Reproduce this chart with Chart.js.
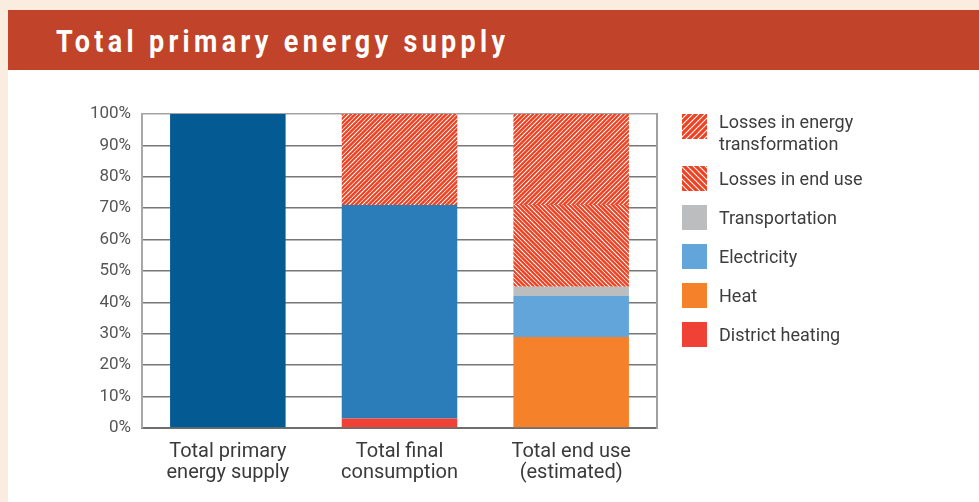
<!DOCTYPE html>
<html>
<head>
<meta charset="utf-8">
<script src="https://cdn.jsdelivr.net/npm/chart.js@4/dist/chart.umd.min.js"></script>
<style>
  html, body { margin:0; padding:0; width:979px; height:502px; overflow:hidden; background:#fbece0; }
  #band { position:absolute; left:8px; top:10px; width:971px; height:60px; background:#c1432a; }
  #title { position:absolute; left:56px; top:25.5px; color:#fff; font:700 31px Roboto, sans-serif; line-height:31px;
           letter-spacing:5px; white-space:nowrap; transform-origin:0 0; }
  #panel { position:absolute; left:8px; top:70px; width:971px; height:432px; background:#fff; }
  #c { position:absolute; left:0; top:0; }
</style>
</head>
<body>
<div id="band"></div>
<div id="title">Total primary energy supply</div>
<div id="panel"><canvas id="c" width="971" height="432"></canvas></div>
<script>
// ---- data ----
const categories = [['Total primary', 'energy supply'], ['Total final', 'consumption'], ['Total end use', '(estimated)']];
const yTickValues = [0, 10, 20, 30, 40, 50, 60, 70, 80, 90, 100];
const primarySupply = [100, null, null];
const districtHeating = [null, 3, null];
const finalConsumption = [null, 68, null];
const heat = [null, null, 29];
const electricity = [null, null, 13];
const transportation = [null, null, 3];
const lossesEndUse = [null, null, 26];
const lossesTransformation = [null, 29, 29];
const legendLabels = {
  lossesTransformation: ['Losses in energy', 'transformation'],
  lossesEndUse: ['Losses in end use'],
  transportation: ['Transportation'],
  electricity: ['Electricity'],
  heat: ['Heat'],
  districtHeating: ['District heating']
};

// ---- title fit ----
(function(){
  const t = document.getElementById('title');
  const w = t.getBoundingClientRect().width - 5;
  t.style.transform = 'scaleX(' + (449 / w) + ')';
})();

// ---- hatch patterns ----
function hatch(dir, N, stripes, frac) {
  const per = N / stripes;
  const cv = document.createElement('canvas'); cv.width = cv.height = N;
  const g = cv.getContext('2d'); const img = g.createImageData(N, N);
  const red = [240, 66, 34];
  for (let y = 0; y < N; y++) for (let x = 0; x < N; x++) {
    let cov = 0;
    for (let i = 0; i < 2; i++) for (let j = 0; j < 2; j++) {
      const sx = x + (i + 0.5) / 2, sy = y + (j + 0.5) / 2;
      const t = dir > 0 ? (sx + sy) : (sx - sy);
      const m = (((t % per) + per) % per) / per;
      if (m < frac) cov++;
    }
    cov /= 4;
    const k = (y * N + x) * 4;
    for (let c = 0; c < 3; c++) img.data[k + c] = Math.round(red[c] * cov + 255 * (1 - cov));
    img.data[k + 3] = 255;
  }
  g.putImageData(img, 0, 0);
  return g.createPattern(cv, 'repeat');
}
const ctx = document.getElementById('c').getContext('2d');
const hatchFwd = hatch(1, 13, 3, 0.72);   // "///"
const hatchBack = hatch(-1, 13, 3, 0.72); // "\\\"
const swatchFwd = hatch(1, 12, 2, 0.68);
const swatchBack = hatch(-1, 12, 2, 0.68);

// ---- custom legend ----
const legendPlugin = {
  id: 'sideLegend',
  afterDraw(chart) {
    const g = chart.ctx;
    const items = chart.data.datasets.filter(d => d.legendKey).slice().reverse();
    let top = 44;
    g.save();
    g.font = '18px Roboto, sans-serif';
    g.textBaseline = 'alphabetic';
    g.textAlign = 'left';
    items.forEach(d => {
      const lines = legendLabels[d.legendKey];
      g.save();
      g.translate(674, top);
      g.fillStyle = d.swatch || d.backgroundColor;
      g.fillRect(0, 0, 25, 25);
      g.restore();
      g.fillStyle = '#3d3d3d';
      if (lines.length === 1) {
        g.fillText(lines[0], 711, top + 19);
      } else {
        lines.forEach((l, i) => g.fillText(l, 711, top + 13.5 + i * 22));
      }
      top += 39 + (lines.length - 1) * 13;
    });
    g.restore();
  }
};

new Chart(ctx, {
  type: 'bar',
  data: {
    labels: categories,
    datasets: [
      { label: 'Total primary energy supply', data: primarySupply, backgroundColor: '#045b93' },
      { label: 'District heating', legendKey: 'districtHeating', data: districtHeating, backgroundColor: '#ef4136' },
      { label: 'Total final consumption', data: finalConsumption, backgroundColor: '#2a7db8' },
      { label: 'Heat', legendKey: 'heat', data: heat, backgroundColor: '#f5812a' },
      { label: 'Electricity', legendKey: 'electricity', data: electricity, backgroundColor: '#62a5da' },
      { label: 'Transportation', legendKey: 'transportation', data: transportation, backgroundColor: '#bcbdbf' },
      { label: 'Losses in end use', legendKey: 'lossesEndUse', data: lossesEndUse, backgroundColor: hatchBack, swatch: swatchBack },
      { label: 'Losses in energy transformation', legendKey: 'lossesTransformation', data: lossesTransformation, backgroundColor: hatchFwd, swatch: swatchFwd }
    ]
  },
  options: {
    responsive: false,
    devicePixelRatio: 1,
    animation: false,
    layout: { padding: { left: 0, right: 322, top: 44, bottom: 0 } },
    datasets: { bar: { categoryPercentage: 1, barPercentage: 0.673, borderWidth: 0 } },
    plugins: { legend: { display: false }, tooltip: { enabled: false } },
    scales: {
      x: {
        stacked: true,
        grid: { display: false, drawTicks: false },
        border: { display: true, color: '#6e6e6e', width: 2 },
        ticks: { color: '#3a3a3a', font: { family: 'Roboto', size: 20, lineHeight: 1.05 }, padding: 13, maxRotation: 0, autoSkip: false },
        afterFit(s) { s.height = 74; }
      },
      y: {
        stacked: true, min: 0, max: 100,
        afterBuildTicks(s) { s.ticks = yTickValues.map(v => ({ value: v })); },
        grid: { drawTicks: false, lineWidth: 1.5, color: c => (c.tick && c.tick.value === 100) ? '#a3a3a3' : '#777777' },
        border: { display: true, color: '#a8a8a8', width: 2 },
        ticks: { color: '#555555', font: { family: 'Roboto', size: 17 }, padding: 11, callback: v => v + '%' },
        afterFit(s) { s.width = 134; }
      },
      y2: {
        type: 'linear', position: 'right', min: 0, max: 100,
        grid: { display: false, drawTicks: false },
        border: { display: true, color: '#a0a0a0', width: 2 },
        ticks: { display: false },
        afterFit(s) { s.width = 0; }
      }
    }
  },
  plugins: [legendPlugin]
});
</script>
</body>
</html>
